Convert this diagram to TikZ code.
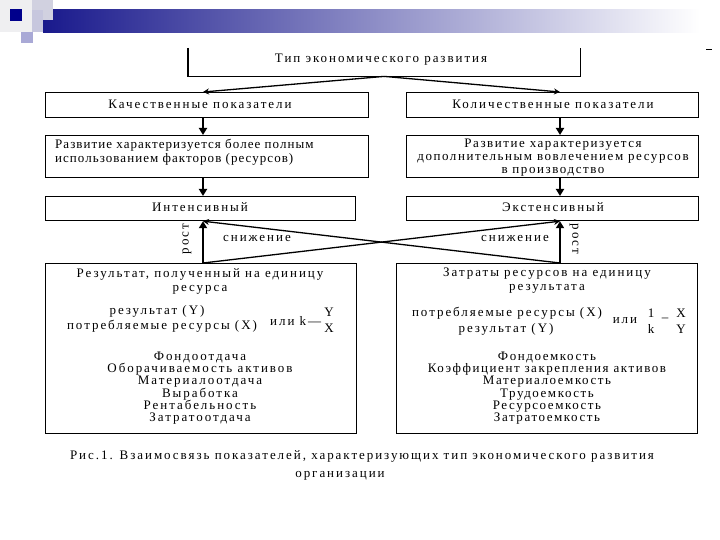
\documentclass[tikz,border=0pt]{standalone}
\usepackage{fontspec}
\setmainfont{Liberation Serif}[LetterSpace=15]
\usetikzlibrary{arrows.meta,calc}
\begin{document}
\begin{tikzpicture}[x=1pt,y=-1pt,
  box/.style={draw, line width=1.2pt, inner sep=0pt, anchor=north west},
  txt/.style={inner sep=0pt, font=\fontsize{13}{13}\selectfont, align=center},
  thickarr/.style={line width=2.4pt, -{Triangle[length=7pt,width=8pt]}},
  thinarr/.style={line width=1.3pt, -{Stealth[length=6pt,width=6pt]}}]
\useasboundingbox (0,0) rectangle (720,540);
\fill[white] (0,0) rectangle (720,540);
% header decoration
\shade[left color=blue!50!black!90, right color=white] (43,10) rectangle (700,33);
\fill[blue!6!gray!12] (0,0) rectangle (32,32);
\fill[blue!20!gray!30] (32,0) rectangle (53,20);
\fill[blue!25!gray!35] (32,10) rectangle (43,32);
\fill[blue!35!gray!50] (21,32) rectangle (33,43);
\fill[blue!55!black] (10,9) rectangle (22,21);
\draw[line width=0.8pt] (706,49) -- (712,49);
% coordinates for arrow columns
\coordinate (lx) at (203,0);
\coordinate (rx) at (560,0);
% boxes
\node[inner sep=0pt, minimum width=392pt, minimum height=28pt, anchor=north west] (title) at (188,48) {};
\draw[line width=1.2pt] (title.north west) |- (title.south east) -- (title.north east);
\node[box, minimum width=323pt, minimum height=25pt] (kach) at (45,92) {};
\node[box, minimum width=292pt, minimum height=25pt] (kol) at (406,92) {};
\node[box, minimum width=323pt, minimum height=42pt] (razA) at (45,135) {};
\node[box, minimum width=292pt, minimum height=42pt] (razB) at (406,135) {};
\node[box, minimum width=310pt, minimum height=24pt] (intens) at (45,196) {};
\node[box, minimum width=292pt, minimum height=24pt] (extens) at (406,196) {};
\node[box, minimum width=311pt, minimum height=170pt] (resL) at (45,263) {};
\node[box, minimum width=301pt, minimum height=170pt] (resR) at (396,263) {};
% texts
\node[txt] (tTitle) at (381,60) {Тип экономического развития};
\node[txt] (tKach) at (200,104) {Качественные показатели};
\node[txt] (tKol) at (553,104) {Количественные показатели};
\node[txt, align=left, anchor=west, font=\fontsize{13}{14}\selectfont\addfontfeature{LetterSpace=8}] (tRazA) at (55,152) {Развитие характеризуется более полным\\использованием факторов (ресурсов)};
\node[txt, font=\fontsize{13}{13}\selectfont\addfontfeature{LetterSpace=12}] (tRazB) at (553,158) {Развитие характеризуется\\дополнительным вовлечением ресурсов\\в производство};
\node[txt] (tInt) at (200,207) {Интенсивный};
\node[txt] (tExt) at (553,207) {Экстенсивный};
\node[txt, rotate=90] (rostL) at (187,239) {рост};
\node[txt, rotate=-90] (rostR) at (574,239) {рост};
\node[txt] (snL) at (257,239) {снижение};
\node[txt] (snR) at (515,239) {снижение};
\node[txt, font=\fontsize{13}{14}\selectfont] (hL) at (200,281) {Результат, полученный на единицу\\ресурса};
\node[txt, font=\fontsize{13}{14}\selectfont] (hR) at (547,281) {Затраты ресурсов на единицу\\результата};
\node[txt] (fL1) at (157,311) {результат (Y)};
\node[txt] (fL2) at (162,326) {потребляемые ресурсы (X)};
\node[txt, anchor=west] (fLk) at (270,321) {или k—};
\node[txt] (fLY) at (329,312) {Y};
\node[txt] (fLX) at (329,328) {X};
\node[txt] (fR1) at (507,313) {потребляемые ресурсы (X)};
\node[txt] (fR2) at (506,329) {результат (Y)};
\node[txt] (fRili) at (625,321) {или};
\node[txt] (fR1n) at (651,313) {1};
\node[txt] (fRk) at (651,329) {k};
\node[txt] (fRd) at (665,320) {–};
\node[txt] (fRX) at (681,313) {X};
\node[txt] (fRY) at (681,329) {Y};
\node[txt, font=\fontsize{13}{12.3}\selectfont] (listL) at (200,388) {Фондоотдача\\Оборачиваемость активов\\Материалоотдача\\Выработка\\Рентабельность\\Затратоотдача};
\node[txt, font=\fontsize{13}{12.3}\selectfont\addfontfeature{LetterSpace=12}] (listR) at (547,388) {Фондоемкость\\Коэффициент закрепления активов\\Материалоемкость\\Трудоемкость\\Ресурсоемкость\\Затратоемкость};
\node[txt] (cap1) at (362,456) {Рис.1. Взаимосвязь показателей, характеризующих тип экономического развития};
\node[txt] (cap2) at (340,476) {организации};
% connectors
\draw[thinarr] (title.south) -- (kach.north -| lx);
\draw[thinarr] (title.south) -- (kol.north -| rx);
\draw[thickarr] (kach.south -| lx) -- (razA.north -| lx);
\draw[thickarr] (razA.south -| lx) -- (intens.north -| lx);
\draw[thickarr] (kol.south -| rx) -- (razB.north -| rx);
\draw[thickarr] (razB.south -| rx) -- (extens.north -| rx);
\draw[thickarr] (resL.north -| lx) -- (intens.south -| lx);
\draw[thickarr] (resR.north -| rx) -- (extens.south -| rx);
\draw[thinarr] (resL.north -| lx) -- (extens.south -| rx);
\draw[thinarr] (resR.north -| rx) -- (intens.south -| lx);
\end{tikzpicture}
\end{document}
